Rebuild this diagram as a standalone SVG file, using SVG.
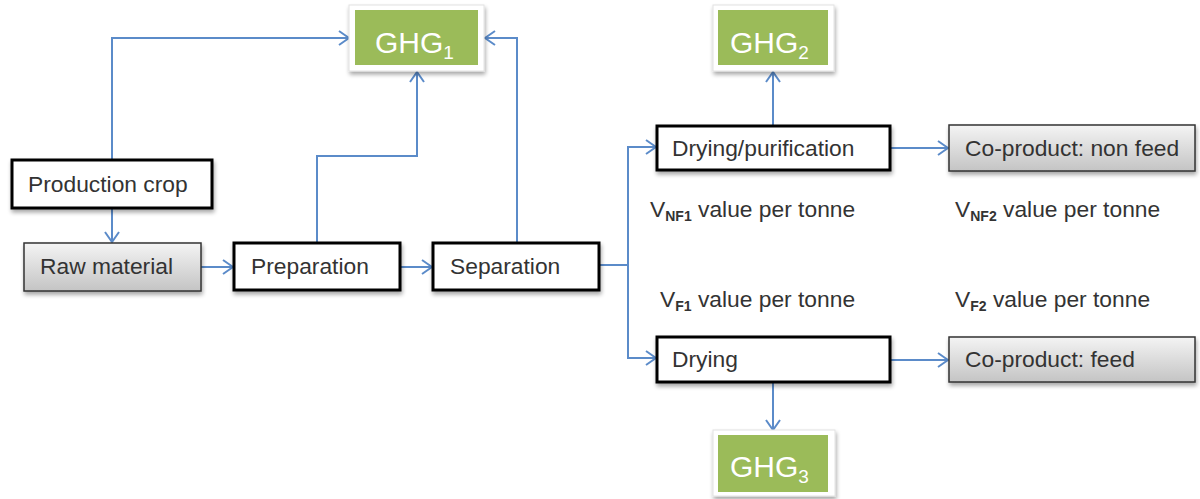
<svg xmlns="http://www.w3.org/2000/svg" width="1200" height="499" viewBox="0 0 1200 499">
  <defs>
    <linearGradient id="grayFill" x1="0" y1="0" x2="0" y2="1">
      <stop offset="0" stop-color="#f4f4f4"/>
      <stop offset="1" stop-color="#c4c4c4"/>
    </linearGradient>
    <filter id="shadow" x="-10%" y="-20%" width="125%" height="150%">
      <feGaussianBlur in="SourceAlpha" stdDeviation="2"/>
      <feOffset dx="1" dy="3" result="b"/>
      <feComponentTransfer><feFuncA type="linear" slope="0.35"/></feComponentTransfer>
      <feMerge><feMergeNode/><feMergeNode in="SourceGraphic"/></feMerge>
    </filter>
    <marker id="arrow" viewBox="0 0 12 16" refX="11" refY="8" markerWidth="12" markerHeight="16" markerUnits="userSpaceOnUse" orient="auto">
      <path d="M1,1 L11,8 L1,15" fill="none" stroke="#5b8bc9" stroke-width="2"/>
    </marker>
  </defs>
  <style>
    .lbl { font-family: "Liberation Sans", Arial, sans-serif; font-size: 22.8px; fill: #333333; }
    .ghg { font-family: "Liberation Sans", Arial, sans-serif; font-size: 30px; fill: #ffffff; }
    .gsub { font-size: 19px; }
    .vsub { font-size: 14px; font-weight: bold; }
    .box { fill: #ffffff; stroke: #000000; stroke-width: 3; }
    .gbox { fill: url(#grayFill); stroke: #333333; stroke-width: 1.5; }
    .frame { fill: #ffffff; stroke: #e2e2e2; stroke-width: 1; }
    .green { fill: #9bbb59; }
    .conn { fill: none; stroke: #5b8bc9; stroke-width: 2; }
  </style>

  <rect width="1200" height="499" fill="#ffffff"/>

  <!-- connectors -->
  <g id="connectors">
    <polyline class="conn" points="112,160 112,38 349,38" marker-end="url(#arrow)"/>
    <polyline class="conn" points="112,208 112,242" marker-end="url(#arrow)"/>
    <polyline class="conn" points="201,267 233,267" marker-end="url(#arrow)"/>
    <polyline class="conn" points="317,243 317,156 417,156 417,72" marker-end="url(#arrow)"/>
    <polyline class="conn" points="400,267 432,267" marker-end="url(#arrow)"/>
    <polyline class="conn" points="517,243 517,38 485,38" marker-end="url(#arrow)"/>
    <polyline class="conn" points="599,265 628,265"/>
    <polyline class="conn" points="628,265 628,147 656,147" marker-end="url(#arrow)"/>
    <polyline class="conn" points="628,265 628,358 656,358" marker-end="url(#arrow)"/>
    <polyline class="conn" points="773,126 773,72" marker-end="url(#arrow)"/>
    <polyline class="conn" points="890,148 948,148" marker-end="url(#arrow)"/>
    <polyline class="conn" points="890,360 948,360" marker-end="url(#arrow)"/>
    <polyline class="conn" points="773,382 773,430" marker-end="url(#arrow)"/>
  </g>

  <!-- greenhouse gas outputs -->
  <g id="ghg1">
    <rect class="frame" x="349" y="5" width="135" height="66" filter="url(#shadow)"/>
    <rect class="green" x="355" y="10" width="123" height="55"/>
    <text class="ghg" x="375" y="53">GHG<tspan class="gsub" dy="6">1</tspan></text>
  </g>
  <g id="ghg2">
    <rect class="frame" x="713" y="5" width="121" height="66" filter="url(#shadow)"/>
    <rect class="green" x="718" y="10" width="110" height="55"/>
    <text class="ghg" x="730" y="53">GHG<tspan class="gsub" dy="6">2</tspan></text>
  </g>
  <g id="ghg3">
    <rect class="frame" x="713" y="430" width="122" height="66" filter="url(#shadow)"/>
    <rect class="green" x="718" y="435" width="110" height="57"/>
    <text class="ghg" x="730" y="477">GHG<tspan class="gsub" dy="6">3</tspan></text>
  </g>

  <!-- process steps -->
  <g id="production-crop">
    <rect class="box" x="12" y="160" width="200" height="48" filter="url(#shadow)"/>
    <text class="lbl" x="28" y="192">Production crop</text>
  </g>
  <g id="raw-material">
    <rect class="gbox" x="24" y="243" width="177" height="48" filter="url(#shadow)"/>
    <text class="lbl" x="40" y="274">Raw material</text>
  </g>
  <g id="preparation">
    <rect class="box" x="234" y="243" width="166" height="47" filter="url(#shadow)"/>
    <text class="lbl" x="251" y="274">Preparation</text>
  </g>
  <g id="separation">
    <rect class="box" x="433" y="243" width="166" height="47" filter="url(#shadow)"/>
    <text class="lbl" x="450" y="274">Separation</text>
  </g>
  <g id="drying-purification">
    <rect class="box" x="657" y="126" width="233" height="44" filter="url(#shadow)"/>
    <text class="lbl" x="672" y="156">Drying/purification</text>
  </g>
  <g id="co-product-non-feed">
    <rect class="gbox" x="949" y="125" width="246" height="46" filter="url(#shadow)"/>
    <text class="lbl" x="965" y="156">Co-product: non feed</text>
  </g>
  <g id="drying">
    <rect class="box" x="657" y="337" width="233" height="45" filter="url(#shadow)"/>
    <text class="lbl" x="672" y="367">Drying</text>
  </g>
  <g id="co-product-feed">
    <rect class="gbox" x="949" y="337" width="246" height="45" filter="url(#shadow)"/>
    <text class="lbl" x="965" y="367">Co-product: feed</text>
  </g>

  <!-- value annotations -->
  <g id="values">
    <text class="lbl" x="650" y="217">V<tspan class="vsub" dy="4">NF1</tspan><tspan dy="-4"> value per tonne</tspan></text>
    <text class="lbl" x="955" y="217">V<tspan class="vsub" dy="4">NF2</tspan><tspan dy="-4"> value per tonne</tspan></text>
    <text class="lbl" x="660" y="307">V<tspan class="vsub" dy="4">F1</tspan><tspan dy="-4"> value per tonne</tspan></text>
    <text class="lbl" x="955" y="307">V<tspan class="vsub" dy="4">F2</tspan><tspan dy="-4"> value per tonne</tspan></text>
  </g>
</svg>
